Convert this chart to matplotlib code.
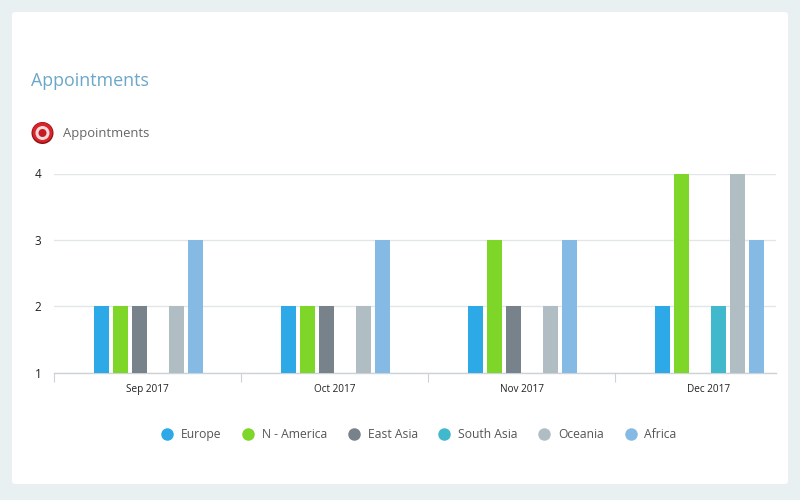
import numpy as np
import matplotlib
matplotlib.use("Agg")
import matplotlib.pyplot as plt
from matplotlib.lines import Line2D
from matplotlib.patches import FancyBboxPatch, Circle

months = ["Sep 2017", "Oct 2017", "Nov 2017", "Dec 2017"]
europe = [2, 2, 2, 2]
n_america = [2, 2, 3, 4]
east_asia = [2, 2, 2, np.nan]
south_asia = [np.nan, np.nan, np.nan, 2]
oceania = [2, 2, 2, 4]
africa = [3, 3, 3, 3]
series_names = ["Europe", "N - America", "East Asia", "South Asia", "Oceania", "Africa"]
series_values = [europe, n_america, east_asia, south_asia, oceania, africa]
colors = ["#2EA9E8", "#7ED628", "#78828B", "#41B8CB", "#B0BEC3", "#85BAE4"]
y_ticks = [1, 2, 3, 4]

plt.rcParams["font.family"] = ["Open Sans", "DejaVu Sans"]
W, H = 800, 500
fig = plt.figure(figsize=(W / 100, H / 100), dpi=100, facecolor="#E8F0F2")

# overlay in pixel coordinates for the card and icon
bg = fig.add_axes([0, 0, 1, 1], zorder=0)
bg.set_xlim(0, W)
bg.set_ylim(H, 0)
bg.axis("off")
bg.add_patch(FancyBboxPatch((14, 14), 772, 468, boxstyle="round,pad=2,rounding_size=3",
                            fc="white", ec="none"))
for (cx, cy, r), c in [((42.5, 133, 11), "#8F1014"), ((42.5, 132.5, 10), "#D8252B"),
                       ((42.5, 133, 7), "#F3D9D9"), ((42.5, 133, 4), "#C41C22")]:
    bg.add_patch(Circle((cx, cy), r, fc=c, ec="none"))
bg.text(31, 81, "Appointments", fontsize=12.9, color="#6BA7C8", va="center", ha="left")
bg.text(63, 133.5, "Appointments", fontsize=9.4, color="#666666", va="center", ha="left")

left, right, top, bottom = 54, 776, 173.5, 372.5
group_px = 187
ax = fig.add_axes([left / W, 1 - bottom / H, (right - left) / W, (bottom - top) / H],
                  zorder=1, facecolor="none")
x = np.arange(len(months))
pitch, width = 0.1, 0.08
for i, (vals, col) in enumerate(zip(series_values, colors)):
    ax.bar(x + (i - 2.5) * pitch + 0.005, np.array(vals, dtype=float) - 1, width, bottom=1,
           color=col, zorder=3)

ax.set_xlim(-0.5, -0.5 + (right - left) / group_px)
ax.set_ylim(1, 4)
ax.set_yticks(y_ticks)
ax.set_yticklabels([str(v) for v in y_ticks], fontsize=8.5, color="#222222")
ax.tick_params(axis="y", length=0, pad=9)
ax.yaxis.grid(True, color="#E3E6E8", lw=1, zorder=0)
ax.set_axisbelow(True)
ax.set_xticks(np.arange(-0.5, 3, 1))
ax.set_xticklabels([""] * 4)
ax.set_xticks(x, months, minor=True, fontsize=7.2, color="#222222")
ax.tick_params(axis="x", which="major", length=6.5, width=0.8, color="#CCD3D8", direction="out")
ax.tick_params(axis="x", which="minor", length=0, pad=8)
for s in ["top", "right", "left"]:
    ax.spines[s].set_visible(False)
ax.spines["bottom"].set_color("#CCD3D8")
ax.spines["bottom"].set_linewidth(1)

handles = [Line2D([], [], ls="none", marker="o", ms=9, mfc=c, mec="none", label=n)
           for n, c in zip(series_names, colors)]
fig.legend(handles=handles, ncol=6, loc="center", bbox_to_anchor=(417 / W, 1 - 434.5 / H),
           frameon=False, fontsize=8.7, labelcolor="#555555", handletextpad=0.35,
           columnspacing=1.4, handlelength=1.6)

fig.savefig("out.png", dpi=100, facecolor=fig.get_facecolor())
